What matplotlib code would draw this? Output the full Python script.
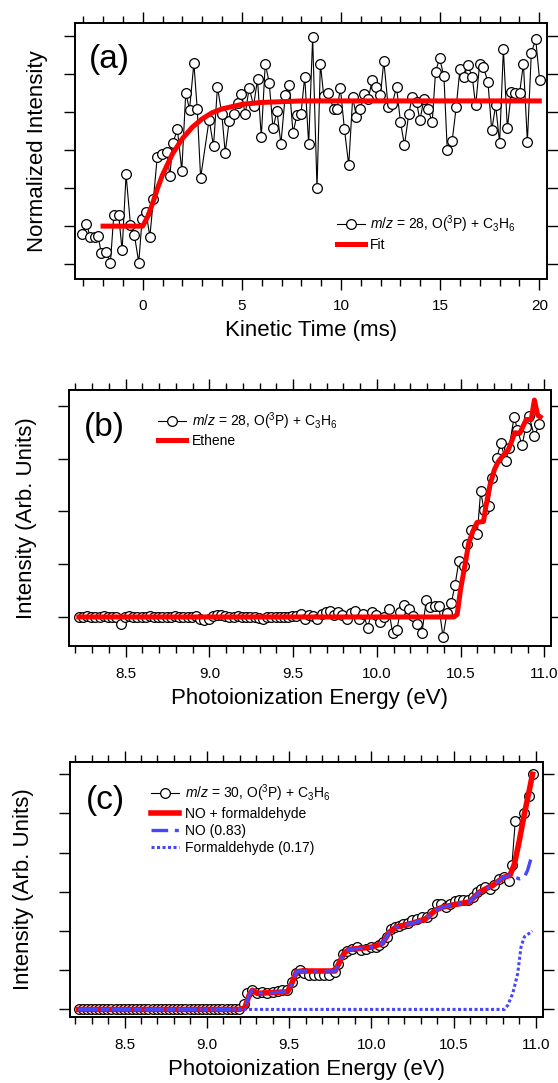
import numpy as np
import matplotlib
matplotlib.use('Agg')
import matplotlib.pyplot as plt
from matplotlib.ticker import MultipleLocator, NullLocator

plt.rcParams['font.family'] = ['Liberation Sans', 'DejaVu Sans']
plt.rcParams['mathtext.fontset'] = 'custom'
plt.rcParams['mathtext.rm'] = 'Liberation Sans'
plt.rcParams['mathtext.it'] = 'Liberation Sans:italic'

RED = '#ff0000'
BLUE = '#4646ff'

# ---- panel (a): kinetic trace m/z 28 ----
t_a = [-3.06, -2.84, -2.64, -2.42, -2.25, -2.09, -1.85, -1.63, -1.46, -1.21,
       -1.04, -0.84, -0.62, -0.42, -0.20, -0.03, 0.17, 0.36, 0.54, 0.73,
       0.95, 1.20, 1.37, 1.52, 1.75, 1.97, 2.17, 2.36, 2.58, 2.75, 2.92,
       3.35, 3.57, 3.77, 3.99, 4.16, 4.36, 4.58, 4.78, 4.97, 5.17,
       5.37, 5.59, 5.79, 5.98, 6.18, 6.38, 6.57, 6.77, 6.97, 7.19,
       7.39, 7.58, 7.78, 7.98, 8.17, 8.37, 8.57, 8.79, 8.96, 9.13,
       9.33, 9.63, 9.80, 9.97, 10.17, 10.39, 10.59, 10.78, 10.98, 11.15,
       11.37, 11.57, 11.77, 11.99, 12.16, 12.38, 12.58, 12.80, 13.00, 13.20,
       13.42, 13.59, 13.81, 13.98, 14.18, 14.38, 14.60, 14.77, 14.97, 15.19, 15.36,
       15.61, 15.81, 16.00, 16.20, 16.40, 16.62, 16.79, 16.99, 17.17, 17.41,
       17.60, 17.80, 18.00, 18.19, 18.39, 18.59, 18.77, 19.01, 19.20, 19.40,
       19.60, 19.82, 20.02]
sig_a = [0.79, 1.06, 0.71, 0.71, 0.73, 0.29, 0.33, 0.04, 1.28, 1.28,
         0.36, 2.36, 1.04, 0.77, 0.04, 1.19, 1.36, 0.72, 1.72, 2.81,
         2.90, 2.95, 2.33, 3.19, 3.54, 2.46, 4.50, 4.06, 5.28, 4.07, 2.27,
         3.80, 3.10, 4.66, 3.94, 2.93, 3.76, 3.95, 4.24, 4.48, 3.95,
         4.64, 4.16, 4.86, 3.34, 5.27, 4.77, 3.57, 4.02, 3.16, 4.45,
         4.71, 3.45, 3.92, 3.94, 4.93, 3.15, 5.96, 1.99, 5.27, 4.42,
         4.51, 4.09, 4.09, 4.62, 3.56, 2.60, 4.39, 3.87, 4.09, 4.46,
         4.33, 4.83, 4.66, 4.44, 5.34, 4.13, 4.20, 4.66, 3.73, 3.13,
         3.95, 4.40, 4.26, 3.78, 4.33, 4.07, 3.74, 5.06, 5.41, 4.95, 2.99,
         3.25, 4.13, 5.14, 4.93, 5.23, 4.92, 4.17, 5.25, 5.19, 4.80,
         3.52, 4.17, 3.19, 5.65, 3.57, 4.53, 4.51, 4.51, 5.27, 3.22,
         5.56, 5.91, 4.83]
fit_t = [-2.0, 0.0, 0.25, 0.5, 0.75, 1.0, 1.5, 2.0, 2.5, 3.0, 3.5, 4.0,
         5.0, 6.0, 7.0, 8.0, 20.0]
fit_a = [1.0, 1.0, 1.25, 1.6, 2.0, 2.35, 2.9, 3.3, 3.6, 3.82, 3.98, 4.08,
         4.2, 4.25, 4.27, 4.29, 4.29]

# ---- panel (b): PIE curve m/z 28 ----
e_b = [8.220, 8.245, 8.270, 8.295, 8.320, 8.345, 8.370, 8.395, 8.420, 8.445,
       8.470, 8.495, 8.520, 8.545, 8.570, 8.595, 8.620, 8.645, 8.670, 8.695,
       8.720, 8.745, 8.770, 8.795, 8.820, 8.845, 8.870, 8.895, 8.920, 8.945,
       8.970, 8.995, 9.020, 9.045, 9.070, 9.095, 9.120, 9.145, 9.170, 9.195,
       9.220, 9.245, 9.270, 9.295, 9.320, 9.345, 9.370, 9.395, 9.420, 9.445,
       9.470, 9.495, 9.520, 9.545, 9.570, 9.595, 9.620, 9.645, 9.670, 9.695,
       9.720, 9.745, 9.770, 9.795, 9.820, 9.845, 9.870, 9.895, 9.920,
       9.945, 9.970, 9.995, 10.020, 10.045, 10.070, 10.095, 10.120, 10.140, 10.165,
       10.190, 10.215, 10.240, 10.270, 10.295, 10.320, 10.345, 10.370, 10.395, 10.420,
       10.445, 10.467, 10.490, 10.520, 10.540, 10.565, 10.600, 10.620, 10.640, 10.667,
       10.690, 10.716, 10.740, 10.770, 10.790, 10.820, 10.840, 10.867, 10.890, 10.910,
       10.940, 10.970]
sig_b = [0.0, 0.0, 0.01, 0.0, 0.0, 0.0, 0.01, 0.0, 0.0, 0.0,
         -0.13, 0.0, 0.01, 0.0, 0.0, 0.0, 0.0, 0.01, 0.0, 0.0,
         0.0, 0.0, 0.0, 0.01, 0.0, 0.0, 0.0, 0.0, 0.02, -0.04,
         -0.06, -0.03, 0.02, 0.03, 0.04, 0.02, 0.0, 0.0, 0.01, 0.0,
         0.0, 0.0, 0.0, -0.02, -0.04, 0.0, 0.0, 0.0, 0.0, 0.0,
         0.0, 0.01, 0.02, 0.06, -0.03, 0.04, 0.02, -0.03, 0.05, 0.10,
         0.12, 0.04, 0.10, 0.03, -0.04, 0.08, 0.12, -0.03, 0.06,
         -0.20, 0.10, 0.03, -0.10, 0.0, 0.15, -0.31, -0.24, 0.10, 0.22,
         0.15, 0.02, -0.14, -0.30, 0.32, 0.19, 0.21, 0.21, -0.37, 0.08,
         0.27, 0.60, 1.06, 0.97, 1.39, 1.64, 1.58, 2.38, 2.03, 2.11,
         2.63, 3.01, 3.29, 2.96, 3.21, 3.79, 3.55, 3.25, 3.60, 3.81,
         3.42, 3.65]
eth_e = [8.22, 10.461, 10.48, 10.50, 10.529, 10.549, 10.573, 10.598, 10.637, 10.651,
         10.676, 10.702, 10.725, 10.749, 10.784, 10.808, 10.824, 10.853, 10.867, 10.892,
         10.922, 10.941, 10.961, 10.976]
eth_b = [0.0, 0.0, 0.05, 0.52, 1.03, 1.40, 1.62, 1.79, 1.81, 2.09,
         2.50, 2.79, 2.94, 3.04, 3.16, 3.35, 3.49, 3.48, 3.57, 3.74,
         3.74, 4.11, 3.82, 3.79]

# ---- panel (c): PIE curve m/z 30 ----
e_c = [8.220, 8.245, 8.270, 8.295, 8.320, 8.345, 8.370, 8.395, 8.420, 8.445,
       8.470, 8.495, 8.520, 8.545, 8.570, 8.595, 8.620, 8.645, 8.670, 8.695,
       8.720, 8.745, 8.770, 8.795, 8.820, 8.845, 8.870, 8.895, 8.920, 8.945,
       8.970, 8.995, 9.020, 9.045, 9.070, 9.095, 9.120, 9.145, 9.170,
       9.196, 9.225, 9.246, 9.277, 9.307, 9.338, 9.368, 9.400, 9.430, 9.460,
       9.490, 9.516, 9.540, 9.565, 9.590, 9.620, 9.650, 9.680, 9.710, 9.740,
       9.780, 9.800, 9.830, 9.855, 9.885, 9.910, 9.936, 9.967, 9.997, 10.027,
       10.048, 10.072, 10.098, 10.120, 10.145, 10.170, 10.190, 10.220, 10.250, 10.277,
       10.307, 10.336, 10.368, 10.397, 10.423, 10.453, 10.480, 10.510, 10.535, 10.559,
       10.585, 10.616, 10.640, 10.666, 10.690, 10.720, 10.747, 10.778, 10.808, 10.835,
       10.855, 10.875, 10.930, 10.958, 10.980]
sig_c = [0.0] * 39 + [
         0.02, 0.15, 0.41, 0.49, 0.41, 0.45, 0.43, 0.45, 0.47, 0.49,
         0.49, 0.70, 0.92, 1.00, 0.92, 0.87, 0.87, 0.87, 0.89, 0.89,
         0.96, 1.17, 1.41, 1.49, 1.55, 1.58, 1.51, 1.55, 1.59, 1.59,
         1.64, 1.72, 1.85, 2.06, 2.10, 2.14, 2.19, 2.20, 2.29, 2.31,
         2.36, 2.36, 2.46, 2.68, 2.69, 2.61, 2.69, 2.76, 2.78, 2.80,
         2.78, 2.88, 2.99, 3.08, 3.12, 3.08, 3.18, 3.33, 3.37, 3.27,
         3.69, 4.80, 5.00, 5.45, 6.00]
sum_e = [8.22, 9.196, 9.23, 9.257, 9.277, 9.307, 9.49, 9.516, 9.545, 9.58,
         9.78, 9.80, 9.835, 9.865, 10.007, 10.068, 10.11, 10.15, 10.25, 10.33,
         10.39, 10.433, 10.514, 10.595, 10.657, 10.697, 10.738, 10.80, 10.843, 10.87,
         10.90, 10.93, 10.96, 10.98]
sum_c = [0.0, 0.0, 0.03, 0.36, 0.49, 0.41, 0.45, 0.66, 0.96, 0.98,
         0.98, 1.15, 1.44, 1.53, 1.59, 1.69, 1.97, 2.10, 2.20, 2.31,
         2.53, 2.61, 2.68, 2.74, 2.99, 3.08, 3.16, 3.36, 3.42, 3.71,
         4.31, 4.98, 5.58, 6.00]
no_e = sum_e[:29] + [10.87, 10.90, 10.93, 10.95, 10.97]
no_c = sum_c[:29] + [3.38, 3.33, 3.37, 3.55, 3.84]
hcho_e = [8.22, 10.81, 10.83, 10.86, 10.89, 10.91, 10.93, 10.956, 10.98]
hcho_c = [0.0, 0.0, 0.11, 0.41, 0.92, 1.59, 1.85, 1.93, 2.0]

data_label28 = '$m/z$ = 28, O($^3$P) + C$_3$H$_6$'
data_label30 = '$m/z$ = 30, O($^3$P) + C$_3$H$_6$'

fig = plt.figure(figsize=(5.58, 10.83), dpi=100)
axa = fig.add_axes([0.1339, 0.7427, 0.8464, 0.2358])
axb = fig.add_axes([0.1231, 0.4035, 0.8643, 0.2364])
axc = fig.add_axes([0.1251, 0.0607, 0.8487, 0.2360])


def style(ax):
    for s in ax.spines.values():
        s.set_linewidth(1.4)
    ax.tick_params(which='both', direction='out', top=True, right=True,
                   labeltop=False, labelright=False, labelleft=False,
                   width=1.0, labelsize=11, pad=7)
    ax.tick_params(which='major', length=8)
    ax.tick_params(which='minor', length=5)
    ax.yaxis.set_major_locator(MultipleLocator(1))
    ax.yaxis.set_minor_locator(NullLocator())


def data_line(ax, x, y, label):
    ax.plot(x, y, color='black', lw=0.8, marker='o', ms=7, mfc='white',
            mec='black', mew=0.9, label=label, zorder=2)


def add_legend(ax, x, y):
    ax.legend(loc='upper left', bbox_to_anchor=(x, y), frameon=False,
              fontsize=10, handlelength=2.0, handletextpad=0.4,
              labelspacing=0.2, borderpad=0, borderaxespad=0)


# (a)
data_line(axa, t_a, sig_a, data_label28)
axa.plot(fit_t, fit_a, color=RED, lw=3.6, label='Fit', zorder=3)
axa.set_xlim(-3.43, 20.39)
axa.set_ylim(-0.38, 6.33)
style(axa)
axa.xaxis.set_major_locator(MultipleLocator(5))
axa.xaxis.set_minor_locator(MultipleLocator(1))
axa.set_xlabel('Kinetic Time (ms)', fontsize=16, labelpad=5)
axa.set_ylabel('Normalized Intensity', fontsize=16, labelpad=11)
axa.text(0.03, 0.86, '(a)', transform=axa.transAxes, fontsize=24,
         ha='left', va='center')
add_legend(axa, 0.555, 0.256)

# (b)
data_line(axb, e_b, sig_b, data_label28)
axb.plot(eth_e, eth_b, color=RED, lw=3.6, label='Ethene', zorder=3)
axb.set_xlim(8.16, 11.04)
axb.set_ylim(-0.55, 4.30)
style(axb)
axb.xaxis.set_major_locator(MultipleLocator(0.5))
axb.xaxis.set_minor_locator(MultipleLocator(0.1))
axb.set_xlabel('Photoionization Energy (eV)', fontsize=16, labelpad=5)
axb.set_ylabel('Intensity (Arb. Units)', fontsize=16, labelpad=15)
axb.text(0.032, 0.854, '(b)', transform=axb.transAxes, fontsize=24,
         ha='left', va='center')
add_legend(axb, 0.186, 0.922)

# (c)
data_line(axc, e_c, sig_c, data_label30)
axc.plot(sum_e, sum_c, color=RED, lw=4.0, label='NO + formaldehyde', zorder=3)
axc.plot(no_e, no_c, color=BLUE, lw=2.4, dashes=(5, 2, 1.2, 2),
         label='NO (0.83)', zorder=4)
axc.plot(hcho_e, hcho_c, color=BLUE, lw=2.2, dashes=(1, 0.8),
         label='Formaldehyde (0.17)', zorder=4)
axc.set_xlim(8.167, 11.046)
axc.set_ylim(-0.20, 6.32)
style(axc)
axc.xaxis.set_major_locator(MultipleLocator(0.5))
axc.xaxis.set_minor_locator(MultipleLocator(0.1))
axc.set_xlabel('Photoionization Energy (eV)', fontsize=16, labelpad=5)
axc.set_ylabel('Intensity (Arb. Units)', fontsize=16, labelpad=18)
axc.text(0.033, 0.85, '(c)', transform=axc.transAxes, fontsize=24,
         ha='left', va='center')
add_legend(axc, 0.172, 0.918)

fig.savefig('out.png', dpi=100)
